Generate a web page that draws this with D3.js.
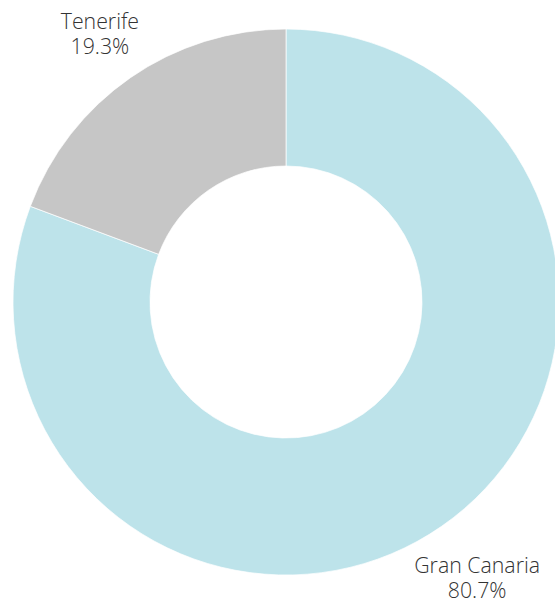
<!DOCTYPE html>
<html><head><meta charset="utf-8">
<script src="https://cdn.jsdelivr.net/npm/d3@7"></script>
<style>body{margin:0;background:#fff}svg{display:block}</style>
</head><body>
<svg id="c" width="555" height="601"></svg>
<script>
const categories = ["Gran Canaria", "Tenerife"];
const values = [80.7, 19.3];
const colors = ["#bde3ea", "#c6c6c6"];

const svg = d3.select("#c");
const cx = 286, cy = 302, R = 273, r0 = 136;
const g = svg.append("g").attr("transform", `translate(${cx},${cy})`);
const pie = d3.pie().sort(null).value(d => d)(values);
const arc = d3.arc().innerRadius(r0).outerRadius(R);
g.selectAll("path").data(pie).join("path")
  .attr("d", arc).attr("fill", (d, i) => colors[i])
  .attr("stroke", "#fff").attr("stroke-width", 0.7);

const labelArc = d3.arc().innerRadius(331).outerRadius(331);
const lab = g.selectAll("text").data(pie).join("text")
  .attr("transform", d => { const c = labelArc.centroid(d); return `translate(${c[0] + 2.5},${c[1]})`; })
  .attr("text-anchor", "middle")
  .style("font-family", "'Open Sans', sans-serif")
  .style("font-weight", 300)
  .style("font-size", "21.3px")
  .attr("fill", "#333");
lab.append("tspan").attr("x", 0).attr("y", -1).text((d, i) => categories[i]);
lab.append("tspan").attr("x", 0).attr("y", 24).text(d => d.value.toFixed(1) + "%");
</script>
</body></html>
